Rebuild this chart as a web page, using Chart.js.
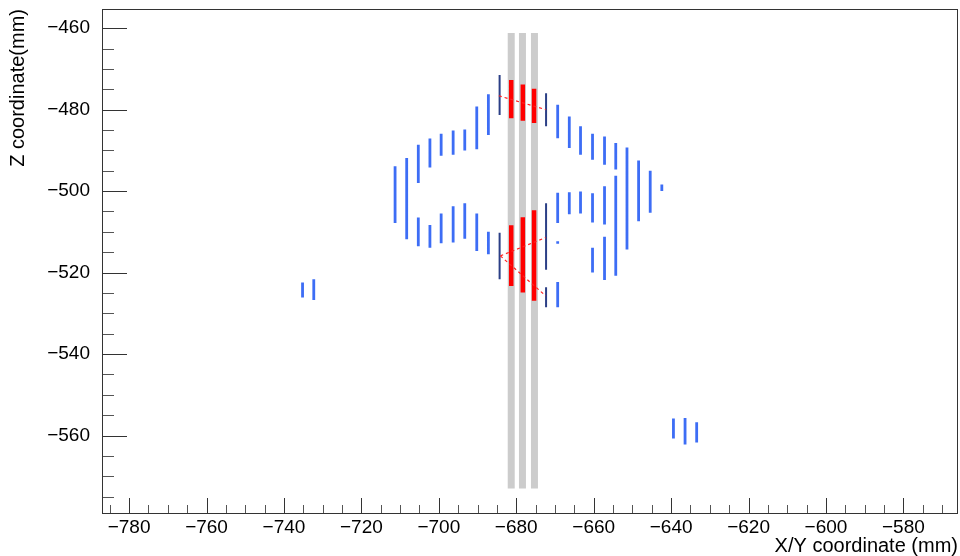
<!DOCTYPE html>
<html>
<head>
<meta charset="utf-8">
<script src="https://cdn.jsdelivr.net/npm/chart.js@4/dist/chart.umd.min.js"></script>
<style>
  html, body { margin: 0; padding: 0; background: #ffffff; }
  canvas { display: block; }
</style>
</head>
<body>
<canvas id="c" width="960" height="556"></canvas>
<script>
// ---- Data (mm) ----
// Light-blue hit strips: x position, top z, bottom z
const blueX = [-711.3, -708.3, -705.3, -705.3, -702.3, -702.3, -699.4, -699.4, -696.3, -696.3,
               -693.3, -693.3, -690.2, -690.2, -687.2, -687.2,
               -669.3, -669.3, -669.3, -669.3, -666.3, -666.3, -663.4, -663.4,
               -660.3, -660.3, -660.3, -657.2, -657.2, -657.2, -654.3, -654.3,
               -651.4, -648.4, -645.4, -642.4,
               -735.2, -732.3, -639.4, -636.4, -633.4];
const blueTop = [-493.9, -491.9, -488.6, -506.5, -487.1, -508.3, -485.9, -505.5, -485.1, -503.7,
                 -484.9, -503.0, -479.2, -505.5, -476.2, -510.0,
                 -478.8, -500.4, -522.3, -512.3, -481.7, -500.3, -484.1, -500.1,
                 -485.9, -500.5, -513.9, -486.6, -498.8, -511.2, -488.2, -496.2,
                 -489.3, -492.5, -495.0, -498.4,
                 -522.4, -521.6, -555.8, -555.7, -556.7];
const blueBottom = [-507.8, -511.8, -498.0, -513.5, -494.2, -513.9, -491.3, -512.8, -491.1, -512.6,
                    -490.0, -511.7, -489.7, -514.7, -486.2, -515.5,
                    -487.0, -507.8, -528.5, -512.9, -489.4, -505.7, -491.1, -505.5,
                    -492.3, -507.7, -520.0, -493.5, -508.2, -521.8, -494.7, -520.8,
                    -514.3, -507.4, -505.3, -500.0,
                    -526.1, -526.7, -560.7, -562.2, -561.7];
// Dark-navy strips
const navyX = [-684.3, -684.3, -672.3, -672.3, -672.3];
const navyTop = [-471.5, -510.2, -476.0, -503.0, -523.6];
const navyBottom = [-481.3, -521.6, -484.1, -519.3, -528.5];
// Red (selected) strips
const redX = [-681.3, -681.3, -678.3, -678.3, -675.4, -675.4];
const redTop = [-472.7, -508.4, -473.8, -506.4, -474.9, -504.7];
const redBottom = [-482.1, -523.3, -482.7, -524.9, -483.3, -526.9];
// Gray detector columns
const grayX = [-681.3, -678.4, -675.3];
const grayTop = [-461.2, -461.2, -461.2];
const grayBottom = [-573.0, -573.0, -573.0];
// Red dashed track candidates: start x,z -> end x,z
const trackX1 = [-684.5, -684.1, -684.1];
const trackZ1 = [-476.6, -515.9, -515.9];
const trackX2 = [-672.4, -672.4, -672.4];
const trackZ2 = [-480.0, -511.4, -525.7];
// Tick labels
const xTickValues = [-780, -760, -740, -720, -700, -680, -660, -640, -620, -600, -580];
const yTickValues = [-460, -480, -500, -520, -540, -560];

// ---- build segment data ----
function segments(xs, tops, bottoms) {
  const pts = [];
  xs.forEach((x, i) => {
    pts.push({x: x, y: tops[i]}, {x: x, y: bottoms[i]}, {x: x, y: null});
  });
  return pts;
}
function tracks(x1, z1, x2, z2) {
  const pts = [];
  x1.forEach((x, i) => {
    pts.push({x: x, y: z1[i]}, {x: x2[i], y: z2[i]}, {x: x2[i], y: null});
  });
  return pts;
}
function fmt(v) { return (v < 0 ? '\u2212' : '') + Math.abs(v); }

const FONT = '"Liberation Sans", Arial, Helvetica, sans-serif';

const rootFrame = {
  id: 'rootFrame',
  beforeDraw(chart) {
    const c = chart.ctx;
    c.save();
    c.fillStyle = '#ffffff';
    c.fillRect(0, 0, chart.width, chart.height);
    c.restore();
  },
  afterDatasetsDraw(chart) {
    const c = chart.ctx, a = chart.chartArea, xs = chart.scales.x, ys = chart.scales.y;
    c.save();
    c.lineWidth = 1;
    // x ticks (inward)
    const xStep = xTickValues[1] - xTickValues[0];
    for (let k = 0; k < xTickValues.length + 1; k++) {
      const base = xTickValues[0] + (k - 1) * xStep;
      for (let m = 0; m < 4; m++) {
        const v = base + m * xStep / 4;
        if (v < xs.min || v > xs.max) continue;
        const px = Math.round(xs.getPixelForValue(v)) + 0.5;
        const major = m === 0;
        c.strokeStyle = major ? '#333' : '#555';
        c.beginPath();
        c.moveTo(px, a.bottom);
        c.lineTo(px, a.bottom - (major ? 15 : 8));
        c.stroke();
      }
    }
    // y ticks (inward)
    const yStep = yTickValues[1] - yTickValues[0];
    for (let k = 0; k < yTickValues.length + 2; k++) {
      const base = yTickValues[0] + (k - 1) * yStep;
      for (let m = 0; m < 4; m++) {
        const v = base + m * yStep / 4;
        if (v < ys.min || v > ys.max) continue;
        const py = Math.round(ys.getPixelForValue(v)) + 0.5;
        const major = m === 0;
        c.strokeStyle = major ? '#333' : '#555';
        c.beginPath();
        c.moveTo(a.left, py);
        c.lineTo(a.left + (major ? 25 : 12), py);
        c.stroke();
      }
    }
    // frame
    c.strokeStyle = '#333';
    c.strokeRect(Math.round(a.left) + 0.5, Math.round(a.top) + 0.5,
                 Math.round(a.right - a.left) - 1, Math.round(a.bottom - a.top));
    c.restore();
  }
};

function lineSet(data, color, width, order, dash) {
  return {
    data: data,
    showLine: true,
    spanGaps: false,
    borderColor: color,
    backgroundColor: color,
    borderWidth: width,
    borderCapStyle: 'butt',
    borderDash: dash || [],
    pointRadius: 0,
    pointHoverRadius: 0,
    order: order
  };
}

new Chart(document.getElementById('c'), {
  type: 'scatter',
  data: {
    datasets: [
      lineSet(tracks(trackX1, trackZ1, trackX2, trackZ2), '#ff2020', 1.2, 0, [3, 3]),
      lineSet(segments(redX, redTop, redBottom), '#ff0000', 4.5, 1),
      lineSet(segments(navyX, navyTop, navyBottom), '#2b3f86', 2, 2),
      lineSet(segments(blueX, blueTop, blueBottom), '#3d6df5', 2.8, 3),
      lineSet(segments(grayX, grayTop, grayBottom), '#cccccc', 7, 4)
    ]
  },
  options: {
    responsive: false,
    animation: false,
    events: [],
    layout: { padding: { top: 9, right: 2, left: 0, bottom: 0 } },
    plugins: { legend: { display: false }, tooltip: { enabled: false } },
    scales: {
      x: {
        type: 'linear',
        min: -787.0,
        max: -565.9,
        afterFit: s => { s.height = 43; s.paddingLeft = 0; s.paddingRight = 0; },
        afterBuildTicks: s => { s.ticks = xTickValues.map(v => ({ value: v })); },
        grid: { display: false, drawTicks: false },
        border: { display: false },
        ticks: {
          color: '#000',
          font: { family: FONT, size: 19 },
          padding: 3,
          maxRotation: 0,
          autoSkip: false,
          callback: v => fmt(v)
        },
        title: {
          display: true,
          text: 'X/Y coordinate (mm)',
          align: 'end',
          color: '#000',
          font: { family: FONT, size: 20, lineHeight: 1 },
          padding: { top: 0, bottom: 0 }
        }
      },
      y: {
        type: 'linear',
        min: -579.0,
        max: -455.3,
        afterFit: s => { s.width = 102; s.paddingTop = 0; s.paddingBottom = 0; },
        afterBuildTicks: s => { s.ticks = yTickValues.map(v => ({ value: v })); },
        grid: { display: false, drawTicks: false },
        border: { display: false },
        ticks: {
          color: '#000',
          font: { family: FONT, size: 19 },
          padding: 12,
          autoSkip: false,
          callback: v => fmt(v)
        },
        title: {
          display: true,
          text: 'Z coordinate(mm)',
          align: 'end',
          color: '#000',
          font: { family: FONT, size: 20, lineHeight: 1 },
          padding: { top: 8, bottom: 0 }
        }
      }
    }
  },
  plugins: [rootFrame]
});
</script>
</body>
</html>
